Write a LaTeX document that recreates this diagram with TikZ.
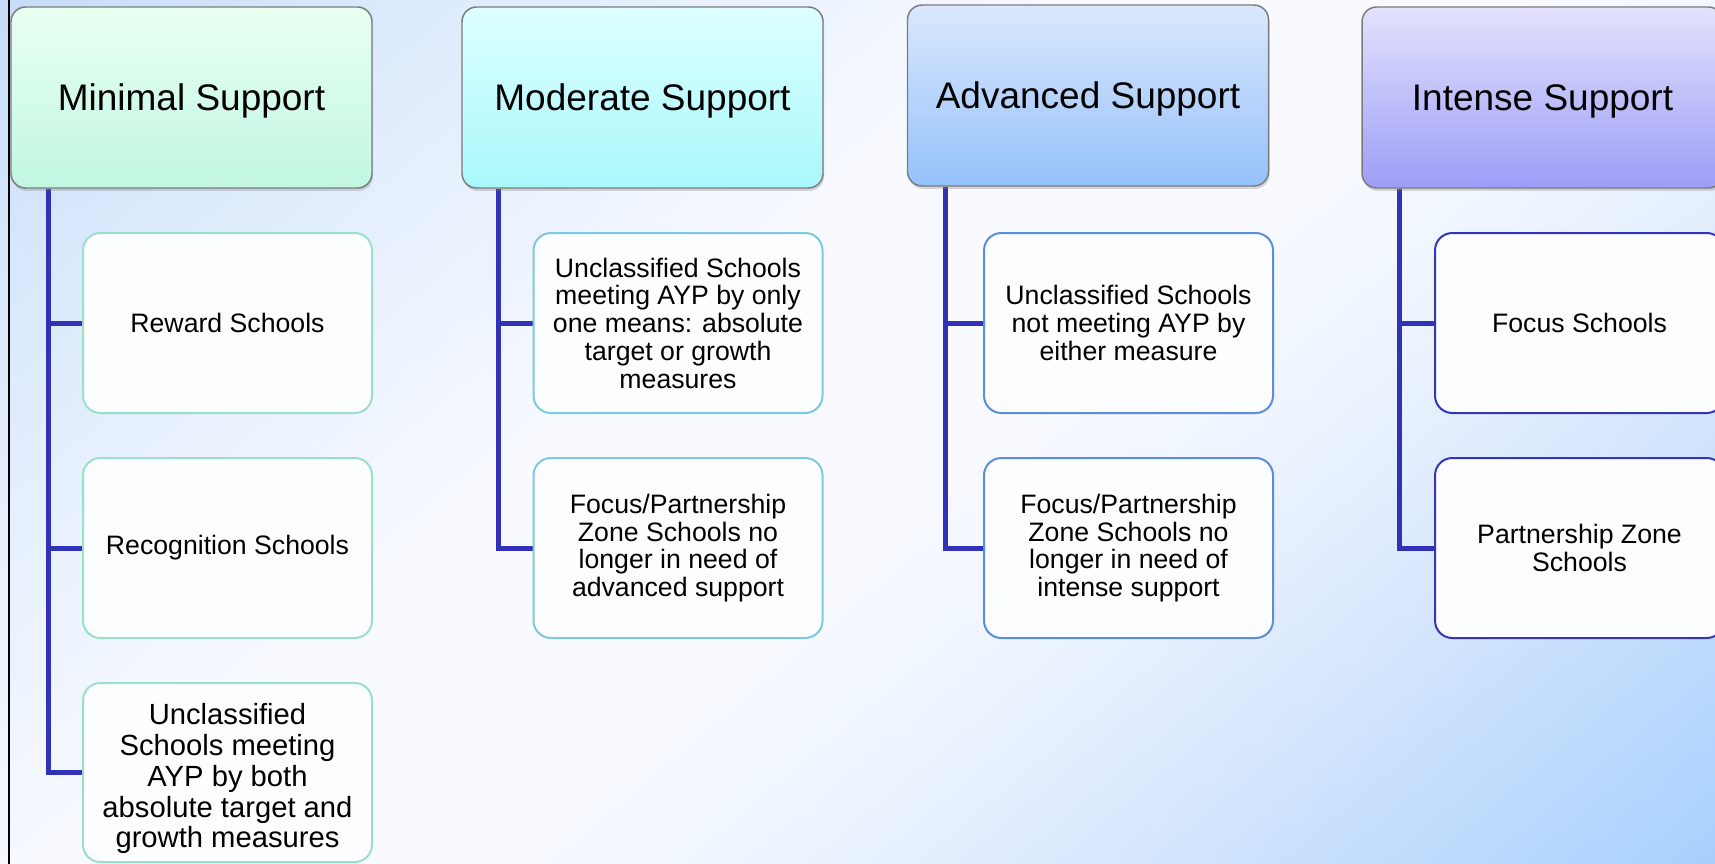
\documentclass[tikz,border=0pt]{standalone}
\usepackage{fontspec}
\setmainfont{Liberation Sans}
\usetikzlibrary{shadows}
\pgfdeclarelayer{back}
\pgfdeclarelayer{bg}
\pgfsetlayers{back,bg,main}
\definecolor{g0}{HTML}{C6DCFA}
\definecolor{g1}{HTML}{DDEBFC}
\definecolor{g2}{HTML}{F0F5FE}
\definecolor{g3}{HTML}{F8FAFF}
\definecolor{g4}{HTML}{F0F6FF}
\definecolor{g5}{HTML}{E6F0FE}
\definecolor{g6}{HTML}{CFE3FC}
\definecolor{g7}{HTML}{C0DCFD}
\definecolor{g8}{HTML}{A6CFFD}
\definecolor{hdrline}{HTML}{7C7C7C}
\definecolor{hAt}{HTML}{E8FFF1}\definecolor{hAb}{HTML}{C2F7E2}
\definecolor{hBt}{HTML}{DEFFFF}\definecolor{hBb}{HTML}{A8F8FB}
\definecolor{hCt}{HTML}{DBE8FC}\definecolor{hCb}{HTML}{95C1FA}
\definecolor{hDt}{HTML}{E2E2FD}\definecolor{hDb}{HTML}{9D9DF7}
\definecolor{kA}{HTML}{9BDFCB}
\definecolor{kB}{HTML}{7DC9DD}
\definecolor{kC}{HTML}{5A8EDB}
\definecolor{kD}{HTML}{3535B8}
\definecolor{kidfill}{HTML}{FCFDFF}
\definecolor{connblue}{HTML}{3232B8}
\begin{document}
\begin{tikzpicture}[x=0.75pt,y=-0.75pt,
  hdr/.style={draw=hdrline, line width=1.1pt, rounded corners=11pt,
    minimum width=270.75pt, minimum height=135.75pt, inner sep=0pt,
    text depth=0pt,
    align=center, font=\fontsize{27.75pt}{32pt}\selectfont,
    drop shadow={opacity=0.3, shadow xshift=0.8pt, shadow yshift=-2.2pt}},
  kid/.style={fill=kidfill, line width=1.5pt, rounded corners=13pt,
    minimum width=216.75pt, minimum height=135pt, inner sep=0pt,
    align=center, font=\fontsize{20pt}{20.8pt}\selectfont},
  conn/.style={draw=connblue, line width=3.75pt, line join=miter}]
\useasboundingbox (0,0) rectangle (1715,863);
\begin{pgfonlayer}{back}
\begin{scope}
\clip (0,0) rectangle (1715,863);
\foreach \ta/\tb/\ca/\cb in {-10/282/g0/g1, 282/564/g1/g2, 564/706/g2/g3, 706/970/g3/g3, 970/1111/g3/g4, 1111/1235/g4/g5, 1235/1438/g5/g6, 1438/1563/g6/g7, 1563/1775/g7/g8}{
  \foreach \k in {0,...,15}{
    \pgfmathsetmacro\u{\ta+(\tb-\ta)*\k/16}
    \pgfmathsetmacro\v{\ta+(\tb-\ta)*(\k+1)/16+1.5}
    \pgfmathtruncatemacro\p{100*(\k+0.5)/16}
    \fill[color=\cb!\p!\ca]
      ({\u*0.6428+1532},{\u*0.766-1285.6}) -- ({\u*0.6428-1532},{\u*0.766+1285.6})
      -- ({\v*0.6428-1532},{\v*0.766+1285.6}) -- ({\v*0.6428+1532},{\v*0.766-1285.6}) -- cycle;
  }
}
\end{scope}
\draw[line width=1.1pt] (9,-2) -- (9,865);
\end{pgfonlayer}

% headers
\node[hdr, top color=hAt, bottom color=hAb] (h1) at (191.5,97.5) {Minimal Support};
\node[hdr, top color=hBt, bottom color=hBb] (h2) at (642.5,97.5) {Moderate Support};
\node[hdr, top color=hCt, bottom color=hCb] (h3) at (1088,95.5) {Advanced Support};
\node[hdr, top color=hDt, bottom color=hDb] (h4) at (1542.5,97.5) {Intense Support};

% children
\node[kid, draw=kA] (c11) at (227.5,323) {Reward Schools};
\node[kid, draw=kA] (c12) at (227.5,548) {Recognition Schools};
\node[kid, draw=kA, minimum height=134.25pt, font=\fontsize{21.9pt}{23.1pt}\selectfont] (c13) at (227.5,772.5)
  {\rule{0pt}{3pt}\\[-1pt]Unclassified\\Schools meeting\\AYP by both\\absolute target and\\growth measures};

\node[kid, draw=kB] (c21) at (678,323) {Unclassified Schools\\meeting AYP by only\\one means: absolute\\target or growth\\measures};
\node[kid, draw=kB] (c22) at (678,548) {Focus/Partnership\\Zone Schools no\\longer in need of\\advanced support};

\node[kid, draw=kC] (c31) at (1128.5,323) {Unclassified Schools\\not meeting AYP by\\either measure};
\node[kid, draw=kC] (c32) at (1128.5,548) {Focus/Partnership\\Zone Schools no\\longer in need of\\intense support};

\node[kid, draw=kD] (c41) at (1579.5,323) {Focus Schools};
\node[kid, draw=kD] (c42) at (1579.5,548) {Partnership Zone\\Schools};

% connector x positions
\coordinate (x1) at (48,0);
\coordinate (x2) at (498,0);
\coordinate (x3) at (945,0);
\coordinate (x4) at (1399,0);

\begin{pgfonlayer}{bg}
\draw[conn] (h1.south -| x1) |- (c13.west);
\draw[conn] (c11.west -| x1) -- (c11.west);
\draw[conn] (c12.west -| x1) -- (c12.west);
\draw[conn] (h2.south -| x2) |- (c22.west);
\draw[conn] (c21.west -| x2) -- (c21.west);
\draw[conn] (h3.south -| x3) |- (c32.west);
\draw[conn] (c31.west -| x3) -- (c31.west);
\draw[conn] (h4.south -| x4) |- (c42.west);
\draw[conn] (c41.west -| x4) -- (c41.west);
\end{pgfonlayer}
\end{tikzpicture}
\end{document}
